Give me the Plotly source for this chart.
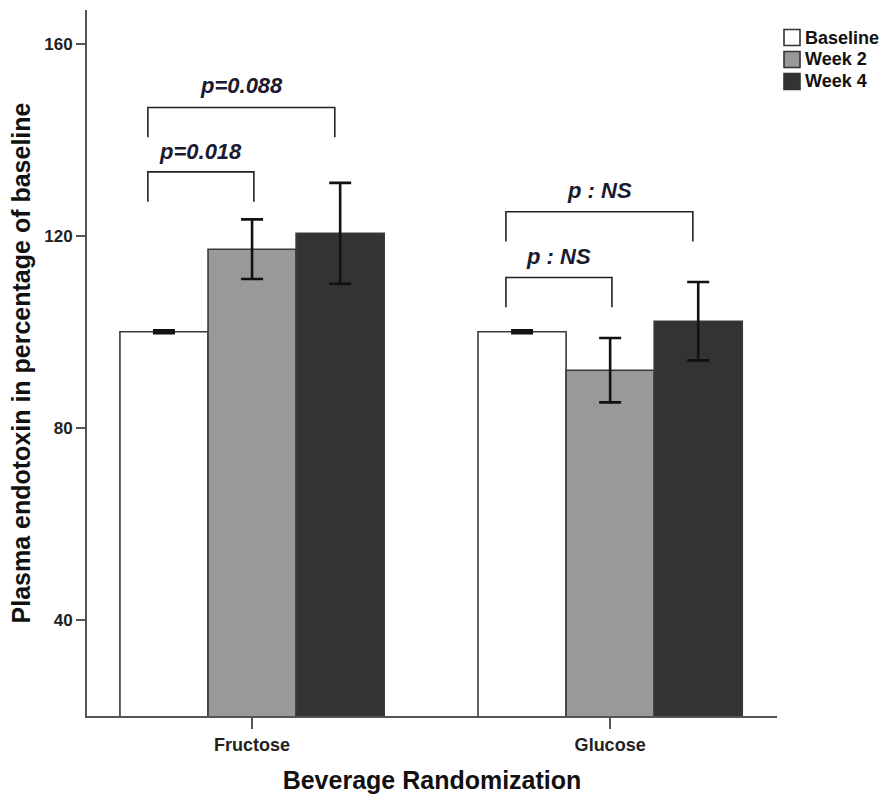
import plotly.graph_objects as go

# Plasma endotoxin, % of baseline, by beverage group and visit
groups = ["Fructose", "Glucose"]
visits = ["Baseline", "Week 2", "Week 4"]
baseline_mean = [100.0, 100.0]
baseline_err = [0.3, 0.3]
week2_mean = [117.2, 92.0]
week2_err = [6.2, 6.7]
week4_mean = [120.5, 102.2]
week4_err = [10.5, 8.15]

# Pairwise comparison labels (baseline vs week 2, baseline vs week 4)
p_week2 = ["p=0.018", "p : NS"]
p_week4 = ["p=0.088", "p : NS"]

bar_colors = ["#ffffff", "#999999", "#333333"]
outline = "#3a3a3a"

W, H = 885, 794
ML, MR, MT, MB = 87, 108, 10, 78
BARGAP = 0.262

fig = go.Figure()
series = [(baseline_mean, baseline_err), (week2_mean, week2_err), (week4_mean, week4_err)]
for name, (m, e), c in zip(visits, series, bar_colors):
    fig.add_trace(go.Bar(
        x=groups, y=m, name=name,
        marker=dict(color=c, line=dict(color=outline, width=1.6)),
        error_y=dict(type="data", array=e, visible=True,
                     color="#111111", thickness=2.6, width=11),
        showlegend=False,
    ))

# Comparison brackets above each group
bw = (1 - BARGAP) / 3
center = lambda gi, vi: gi + (vi - 1) * bw
bracket_color = "#222222"
txt_font = dict(family="Liberation Sans", size=22, color="#1a1a30")
shapes = []
annotations = []
# (label, target visit, bracket top, leg bottom, label y) per group
levels = {
    0: [(p_week2[0], 1, 133.3, 127.1, 137.6), (p_week4[0], 2, 146.7, 140.5, 151.2)],
    1: [(p_week2[1], 1, 111.3, 105.1, 115.6), (p_week4[1], 2, 125.0, 118.8, 129.4)],
}
for gi, items in levels.items():
    for label, vi, ytop, ybot, ylab in items:
        x0 = center(gi, 0) - 0.045
        x1 = center(gi, vi) + (0.005 if vi == 1 else -0.015)
        shapes.append(dict(
            type="path", xref="x", yref="y",
            path=f"M {x0},{ybot} L {x0},{ytop} L {x1},{ytop} L {x1},{ybot}",
            line=dict(color=bracket_color, width=1.6),
        ))
        annotations.append(dict(
            x=(x0 + x1) / 2, y=ylab, xref="x", yref="y",
            text=f"<b><i>{label}</i></b>", showarrow=False,
            font=txt_font, xanchor="center", yanchor="middle",
        ))

# Legend drawn as swatches with labels, placed right of the plot area
pw, ph = W - ML - MR, H - MT - MB
px = lambda x: (x - ML) / pw
py = lambda y: (H - MB - y) / ph
for i, (name, c) in enumerate(zip(visits, bar_colors)):
    yc = 37.5 + 22 * i
    shapes.append(dict(
        type="rect", xref="paper", yref="paper",
        x0=px(784), x1=px(800), y0=py(yc + 8), y1=py(yc - 8),
        fillcolor=c, line=dict(color="#333333", width=1.6),
    ))
    annotations.append(dict(
        x=px(803), y=py(yc), xref="paper", yref="paper",
        text=f"<b>{name}</b>", showarrow=False,
        xanchor="left", yanchor="middle",
        font=dict(family="Liberation Sans", size=18, color="#111111"),
    ))

ytick_font = dict(size=17, family="Liberation Sans", color="#222222", weight="bold")
xtick_font = dict(size=18, family="Liberation Sans", color="#222222", weight="bold")

fig.update_layout(
    width=W, height=H,
    margin=dict(l=ML, r=MR, t=MT, b=MB),
    paper_bgcolor="white", plot_bgcolor="white",
    barmode="group", bargap=BARGAP, bargroupgap=0,
    shapes=shapes, annotations=annotations,
    font=dict(family="Liberation Sans", color="#111111"),
    xaxis=dict(
        range=[-0.461, 1.466], showline=True, linecolor="#555555", linewidth=2,
        ticks="outside", ticklen=11, tickwidth=2, tickcolor="#555555",
        tickfont=xtick_font, automargin=False,
        showgrid=False, zeroline=False,
        title=dict(text="<b>Beverage Randomization</b>",
                   font=dict(size=25, color="#111111"), standoff=21),
    ),
    yaxis=dict(
        range=[20, 167], tickvals=[40, 80, 120, 160],
        showline=True, linecolor="#555555", linewidth=2,
        ticks="outside", ticklen=9, tickwidth=2, tickcolor="#555555",
        tickfont=ytick_font, automargin=False,
        showgrid=False, zeroline=False,
        title=dict(text="<b>Plasma endotoxin in percentage of baseline</b>",
                   font=dict(size=25, color="#111111"), standoff=6),
    ),
)

fig.write_html("out.html")
